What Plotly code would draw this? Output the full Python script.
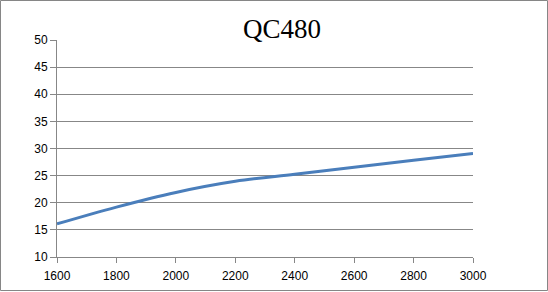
import plotly.graph_objects as go

x_vals = [1600, 1800, 2000, 2200, 2400, 2600, 2800, 3000]
y_vals = [16.1, 19.2, 21.9, 23.95, 25.25, 26.55, 27.85, 29.1]
title_text = "QC480"
x_ticks = [1600, 1800, 2000, 2200, 2400, 2600, 2800, 3000]
y_ticks = [10, 15, 20, 25, 30, 35, 40, 45, 50]

W, H = 548, 292
ml, mr, mt, mb = 57, 75, 40, 35
pw, ph = W - ml - mr, H - mt - mb

fig = go.Figure()
fig.add_trace(go.Scatter(
    x=x_vals, y=y_vals, mode="lines",
    line=dict(color="#4A7EBB", width=3, shape="spline", smoothing=1.0),
    showlegend=False, hoverinfo="skip"))

grid = "#878787"
fig.update_layout(
    width=W, height=H,
    margin=dict(l=ml, r=mr, t=mt, b=mb),
    paper_bgcolor="white", plot_bgcolor="white",
    font=dict(family="Liberation Sans, Arial, sans-serif", size=12, color="#000000"),
    xaxis=dict(range=[1600, 3000], tickvals=x_ticks, ticktext=[str(v) for v in x_ticks],
               showgrid=False, zeroline=False, showline=True, linecolor=grid, linewidth=1,
               ticks="outside", ticklen=5, tickcolor=grid, tickwidth=1,
               ticklabelstandoff=3, automargin=False),
    yaxis=dict(range=[10, 50], tickvals=y_ticks, ticktext=[str(v) for v in y_ticks],
               showgrid=True, gridcolor=grid, gridwidth=1, zeroline=False,
               showline=True, linecolor=grid, linewidth=1,
               ticks="outside", ticklen=6, tickcolor=grid, tickwidth=1,
               automargin=False),
)

fig.add_annotation(text=title_text, xref="paper", yref="paper",
                   x=(282 - ml) / pw, y=(H - mb - 40) / ph,
                   xanchor="center", yanchor="bottom", showarrow=False,
                   font=dict(family="Liberation Serif, Times New Roman, serif", size=27, color="#000000"),
                   yshift=-6)

fig.add_shape(type="rect", xref="paper", yref="paper",
              x0=(0.5 - ml) / pw, x1=(W - 0.5 - ml) / pw,
              y0=(H - mb - (H - 1.5)) / ph, y1=(H - mb - 0.5) / ph,
              line=dict(color="#868686", width=1), layer="below")

fig.write_html("out.html")
